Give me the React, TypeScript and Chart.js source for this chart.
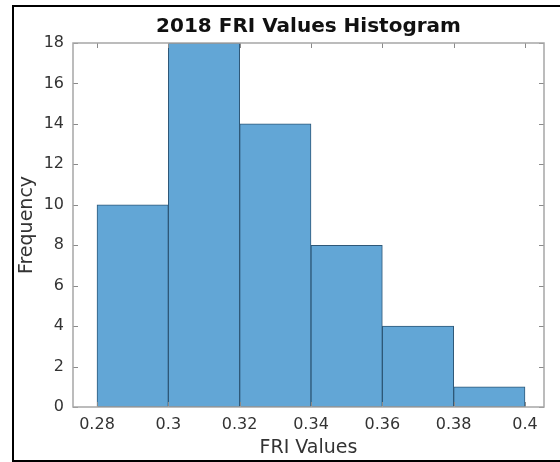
import React, { useEffect, useRef } from "react";
import { Chart, registerables } from "chart.js";

Chart.register(...registerables);

const binEdges = [0.28, 0.3, 0.32, 0.34, 0.36, 0.38, 0.4];
const counts = [10, 18, 14, 8, 4, 1];
const xTicks = [0.28, 0.3, 0.32, 0.34, 0.36, 0.38, 0.4];
const yTicks = [0, 2, 4, 6, 8, 10, 12, 14, 16, 18];
const titleText = "2018 FRI Values Histogram";
const xLabel = "FRI Values";
const yLabel = "Frequency";

const FONT = "'DejaVu Sans', sans-serif";
const AXIS_COLOR = "#a6a6a6";
const TICK_COLOR = "#8a8a8a";

const framePlugin = {
  id: "framePlugin",
  beforeDraw(chart: any) {
    const ctx = chart.ctx;
    ctx.save();
    ctx.fillStyle = "#ffffff";
    ctx.fillRect(0, 0, chart.width, chart.height);
    ctx.strokeStyle = "#000000";
    ctx.lineWidth = 2;
    ctx.beginPath();
    ctx.moveTo(chart.width, 6);
    ctx.lineTo(13, 6);
    ctx.lineTo(13, 461);
    ctx.lineTo(chart.width, 461);
    ctx.stroke();
    ctx.restore();
  },
  afterDatasetsDraw(chart: any) {
    const ctx = chart.ctx;
    const { left, right, top, bottom } = chart.chartArea;
    const xs = chart.scales.x;
    const ys = chart.scales.y;
    const len = 5;
    ctx.save();
    ctx.strokeStyle = TICK_COLOR;
    ctx.lineWidth = 1;
    ctx.beginPath();
    xs.ticks.forEach((t: any) => {
      const px = Math.round(xs.getPixelForValue(t.value)) + 0.5;
      ctx.moveTo(px, bottom);
      ctx.lineTo(px, bottom - len);
      ctx.moveTo(px, top);
      ctx.lineTo(px, top + len);
    });
    ys.ticks.forEach((t: any) => {
      const py = Math.round(ys.getPixelForValue(t.value)) + 0.5;
      ctx.moveTo(left, py);
      ctx.lineTo(left + len, py);
      ctx.moveTo(right, py);
      ctx.lineTo(right - len, py);
    });
    ctx.stroke();
    ctx.strokeStyle = AXIS_COLOR;
    ctx.lineWidth = 1.5;
    ctx.strokeRect(left, top, right - left, bottom - top);
    ctx.restore();
  },
};

export default function App() {
  const ref = useRef<HTMLCanvasElement | null>(null);

  useEffect(() => {
    const canvas = ref.current;
    if (!canvas) return;
    const data = counts.map((c, i) => ({
      x: (binEdges[i] + binEdges[i + 1]) / 2,
      y: c,
    }));
    const chart = new Chart(canvas, {
      type: "bar",
      data: {
        datasets: [
          {
            data: data as any,
            backgroundColor: "rgb(98,166,214)",
            borderColor: "#2e5878",
            borderWidth: 1,
            borderSkipped: false,
            barPercentage: 1,
            categoryPercentage: 1,
          },
        ],
      },
      options: {
        responsive: false,
        animation: false,
        devicePixelRatio: 1,
        layout: { padding: { left: 13, top: 15, right: 16, bottom: 2 } },
        plugins: {
          legend: { display: false },
          tooltip: { enabled: false },
          title: {
            display: true,
            fullSize: false,
            text: titleText,
            color: "#111111",
            font: { family: FONT, size: 20, weight: "bold" },
            padding: { top: 0, bottom: 4 },
          },
        },
        scales: {
          x: {
            type: "linear",
            min: 0.27327,
            max: 0.40533,
            offset: false,
            grid: { display: false, drawTicks: false },
            border: { display: false },
            afterBuildTicks: (scale: any) => {
              scale.ticks = xTicks.map((v) => ({ value: v }));
            },
            afterFit: (scale: any) => {
              scale.height = 53;
            },
            ticks: {
              color: "#333333",
              font: { family: FONT, size: 16 },
              padding: 8,
              maxRotation: 0,
              autoSkip: false,
              callback: (v: any) => String(Number(Number(v).toFixed(2))),
            },
            title: {
              display: true,
              text: xLabel,
              color: "#333333",
              font: { family: FONT, size: 19 },
              padding: { top: 0, bottom: 1 },
            },
          },
          y: {
            min: 0,
            max: 18,
            grid: { display: false, drawTicks: false },
            border: { display: false },
            afterBuildTicks: (scale: any) => {
              scale.ticks = yTicks.map((v) => ({ value: v }));
            },
            afterFit: (scale: any) => {
              scale.width = 60;
            },
            ticks: {
              color: "#333333",
              font: { family: FONT, size: 16 },
              padding: 9,
              autoSkip: false,
            },
            title: {
              display: true,
              text: yLabel,
              color: "#333333",
              font: { family: FONT, size: 19 },
              padding: { top: 3, bottom: 0 },
            },
          },
        },
      },
      plugins: [framePlugin],
    });
    return () => chart.destroy();
  }, []);

  return (
    <div style={{ position: "fixed", left: 0, top: 0, width: 560, height: 462 }}>
      <canvas ref={ref} width={560} height={462} style={{ display: "block" }} />
    </div>
  );
}
